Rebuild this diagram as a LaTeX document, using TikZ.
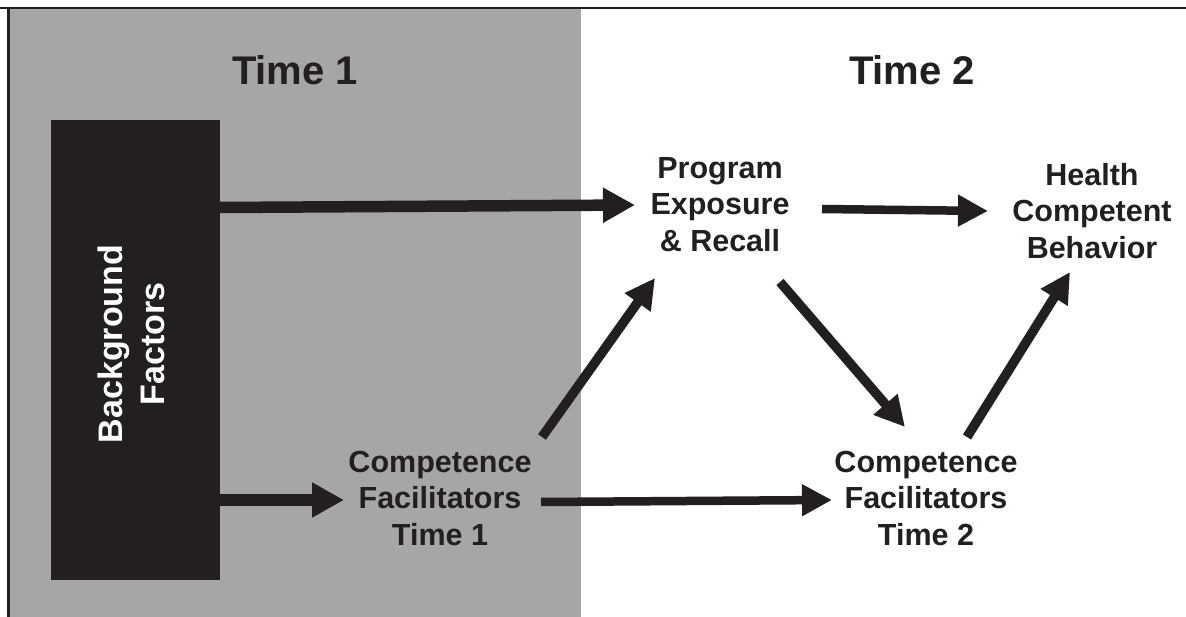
\documentclass[tikz,border=0pt]{standalone}
\usepackage{fontspec}
\setmainfont{Liberation Sans}
\usetikzlibrary{arrows.meta,calc}
\definecolor{panelgrey}{RGB}{167,165,166}
\definecolor{ink}{RGB}{35,31,32}
\begin{document}
\begin{tikzpicture}[x=1pt,y=-1pt,
  lbl/.style={font=\fontsize{30.5}{36.5}\selectfont\bfseries, text=ink, align=center, inner sep=0pt, anchor=north},
  big/.style={font=\fontsize{40}{48}\selectfont\bfseries, text=ink, inner sep=0pt, anchor=base},
  link/.style={draw=ink, line width=9.5pt, -{Triangle[length=30pt,width=30pt]}},
  biglink/.style={draw=ink, line width=11.5pt, -{Triangle[length=32pt,width=33pt]}}]
\useasboundingbox (0,0) rectangle (1186,617);
\fill[white] (0,0) rectangle (1186,617);
% time-1 panel and frame
\fill[panelgrey] (8.5,8.3) rectangle (581,617);
\draw[ink, line width=2pt] (0,8.3) -- (1186,8.3);
\draw[ink, line width=2.5pt] (8.5,7.3) -- (8.5,617);
% headings
\node[big] (t1) at (295,85) {Time 1};
\node[big] (t2) at (912,85) {Time 2};
% background factors block
\node[fill=ink, draw=none, inner sep=0pt, minimum width=169pt, minimum height=460pt] (bg) at (135.5,350) {};
\node[rotate=90, text=white, inner sep=0pt, align=center, font=\fontsize{34}{42}\selectfont\bfseries] (bgl) at (131.5,344) {Background\\Factors};
% labels
\node[lbl] (prog) at (720,157) {Program\\Exposure\\\& Recall};
\node[lbl] (health) at (1092,163) {Health\\Competent\\Behavior};
\node[lbl] (cf1) at (440,451) {Competence\\Facilitators\\Time 1};
\node[lbl] (cf2) at (926,451) {Competence\\Facilitators\\Time 2};
% connectors
\draw[biglink] ($(bg.east)+(0,-142.5)$) -- ($(prog.north)+(-85,48)$);
\draw[biglink] ($(bg.east)+(0,150)$) -- ($(cf1.north)+(-96,49)$);
\draw[link, line width=8.5pt] ($(cf1.north)+(101,51)$) -- ($(cf2.north)+(-94,49)$);
\draw[link] ($(cf1.north)+(102,-14)$) -- ($(prog.north)+(-65,121)$);
\draw[link] ($(prog.north)+(60,125)$) -- ($(cf2.north)+(-21,-24)$);
\draw[link] ($(cf2.north)+(41,-14)$) -- ($(health.north)+(-22,109)$);
\draw[link, line width=8.5pt] ($(prog.north)+(102,52)$) -- ($(health.north)+(-104,48)$);
\end{tikzpicture}
\end{document}
